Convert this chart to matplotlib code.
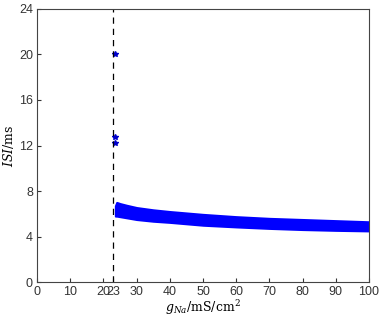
import matplotlib
matplotlib.use("Agg")
import matplotlib.pyplot as plt
import numpy as np

plt.rcParams["mathtext.fontset"] = "dejavuserif"

# valeurs
g_na = [23.6, 24, 25, 27, 30, 35, 40, 50, 60, 70, 80, 90, 100]
isi_haut = [6.7, 7.0, 6.9, 6.75, 6.55, 6.35, 6.2, 5.95, 5.75, 5.6, 5.5, 5.4, 5.3]
isi_bas = [5.8, 5.8, 5.75, 5.65, 5.5, 5.35, 5.25, 5.0, 4.85, 4.72, 4.62, 4.55, 4.5]

# points isolés près du seuil
g_isol = [23.6, 23.6, 23.6]
isi_isol = [20.0, 12.75, 12.25]

seuil = 23
xticks = [0, 10, 20, 23, 30, 40, 50, 60, 70, 80, 90, 100]
yticks = [0, 4, 8, 12, 16, 20, 24]

fig = plt.figure(figsize=(3.82, 3.17), dpi=100)
ax = fig.add_axes([0.097, 0.110, 0.869, 0.862])

ax.fill_between(g_na, isi_bas, isi_haut, color="#0000ff", lw=1.5, edgecolor="#0000ff")
ax.plot(g_isol, isi_isol, "*", color="#0000cc", ms=4)
ax.axvline(seuil, color="black", ls=(0, (5, 4)), lw=0.9)

ax.set_xlim(0, 100)
ax.set_ylim(0, 24)
ax.set_xticks(xticks)
ax.set_yticks(yticks)
ax.tick_params(direction="in", length=3, labelsize=9, colors="#333333", pad=3)
for lab in ax.get_xticklabels() + ax.get_yticklabels():
    lab.set_family("Liberation Sans")
for s in ax.spines.values():
    s.set_color("#444444")
    s.set_linewidth(0.8)

ax.set_xlabel(r"$g_{Na}$/mS/cm$^2$", family="serif", fontsize=9, labelpad=0)
ax.set_ylabel(r"$ISI$/ms", family="serif", fontsize=9, labelpad=2)

fig.savefig("out.png", dpi=100)
